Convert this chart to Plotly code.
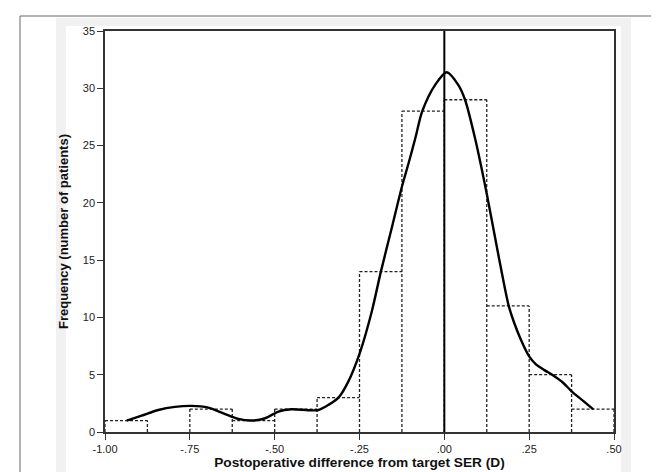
import plotly.graph_objects as go

# ---------------- data ----------------
bin_edges = [-1.0, -0.875, -0.75, -0.625, -0.5, -0.375, -0.25, -0.125, 0.0, 0.125, 0.25, 0.375, 0.5]
counts = [1, 0, 2, 1, 2, 3, 14, 28, 29, 11, 5, 2]

curve_x = [-0.936, -0.892, -0.843, -0.794, -0.745, -0.696, -0.651, -0.607, -0.568, -0.528,
           -0.489, -0.450, -0.401, -0.371, -0.342, -0.312, -0.283, -0.248, -0.214, -0.187,
           -0.155, -0.126, -0.105, -0.085, -0.065, -0.027, 0.007, 0.041, 0.061, 0.090,
           0.125, 0.159, 0.189, 0.205, 0.225, 0.250, 0.270, 0.295, 0.320, 0.350,
           0.375, 0.410, 0.439]
curve_y = [1.0, 1.43, 1.92, 2.19, 2.28, 2.13, 1.63, 1.14, 1.0, 1.2,
           1.78, 1.98, 1.9, 1.92, 2.36, 3.0, 4.4, 7.0, 10.5, 14.0,
           17.8, 21.3, 23.5, 25.7, 28.0, 30.3, 31.4, 30.3, 29.0, 25.7,
           20.8, 15.5, 11.1, 9.6, 8.1, 6.6, 5.9, 5.4, 4.95, 4.3,
           3.55, 2.7, 1.98]

ref_x = 0.0
x_tickvals = [-1.0, -0.75, -0.5, -0.25, 0.0, 0.25, 0.5]
x_ticktext = ["-1.00", "-.75", "-.50", "-.25", ".00", ".25", ".50"]
y_tickvals = [0, 5, 10, 15, 20, 25, 30, 35]

# ---------------- histogram outline built from edges/counts ----------------
hx, hy = [], []
for i, c in enumerate(counts):
    if c > 0:
        hx += [bin_edges[i], bin_edges[i + 1], None]
        hy += [c, c, None]
for j, e in enumerate(bin_edges):
    left = counts[j - 1] if j - 1 >= 0 else 0
    right = counts[j] if j < len(counts) else 0
    h = max(left, right)
    if h > 0:
        hx += [e, e, None]
        hy += [0, h, None]

W, H = 659, 472
L, R, T, B = 97, 53, 23, 48
pw, ph = W - L - R, H - T - B


def px(xp):
    return (xp - L) / pw


def py(yp):
    return 1 - (yp - T) / ph


fig = go.Figure()
fig.add_trace(go.Scatter(x=hx, y=hy, mode="lines",
                         line=dict(color="#222222", width=1.3, dash="3px,2px"),
                         hoverinfo="skip", showlegend=False))
fig.add_trace(go.Scatter(x=[ref_x, ref_x], y=[0, 35], mode="lines",
                         line=dict(color="#000000", width=2), showlegend=False))
fig.add_trace(go.Scatter(x=curve_x, y=curve_y, mode="lines",
                         line=dict(color="#000000", width=2.4, shape="spline", smoothing=0.8),
                         showlegend=False))

shapes = [
    dict(type="rect", xref="paper", yref="paper", x0=px(12), x1=px(720), y0=py(8), y1=py(520),
         line=dict(color="#666666", width=1), fillcolor="rgba(0,0,0,0)", layer="below"),
    dict(type="rect", xref="paper", yref="paper", x0=px(48), x1=px(623), y0=py(10), y1=py(480),
         line=dict(width=0), fillcolor="#f1f1f1", layer="below"),
    dict(type="rect", xref="paper", yref="paper", x0=px(58), x1=px(613), y0=py(18), y1=py(467),
         line=dict(width=0), fillcolor="#ffffff", layer="below"),
]

axis_common = dict(showgrid=False, zeroline=False, showline=True, linecolor="#333333",
                   linewidth=1.5, mirror=True, ticks="outside", ticklen=6, tickwidth=1,
                   tickcolor="#333333",
                   tickfont=dict(family="Liberation Sans, Arial", size=11, color="#222222"))

fig.update_layout(
    width=W, height=H,
    margin=dict(l=L, r=R, t=T, b=B),
    paper_bgcolor="#ffffff", plot_bgcolor="#ffffff",
    shapes=shapes,
    xaxis=dict(range=[-1.0, 0.5], tickvals=x_tickvals, ticktext=x_ticktext,
               title=dict(text="Postoperative difference from target SER (D)", standoff=1,
                          font=dict(family="Liberation Sans, Arial", size=13.7,
                                    color="#111111", weight="bold")),
               **axis_common),
    yaxis=dict(range=[0, 35], tickvals=y_tickvals,
               title=dict(text="Frequency (number of patients)", standoff=11,
                          font=dict(family="Liberation Sans, Arial", size=13,
                                    color="#111111", weight="bold")),
               **axis_common),
)

fig.write_html("out.html")
